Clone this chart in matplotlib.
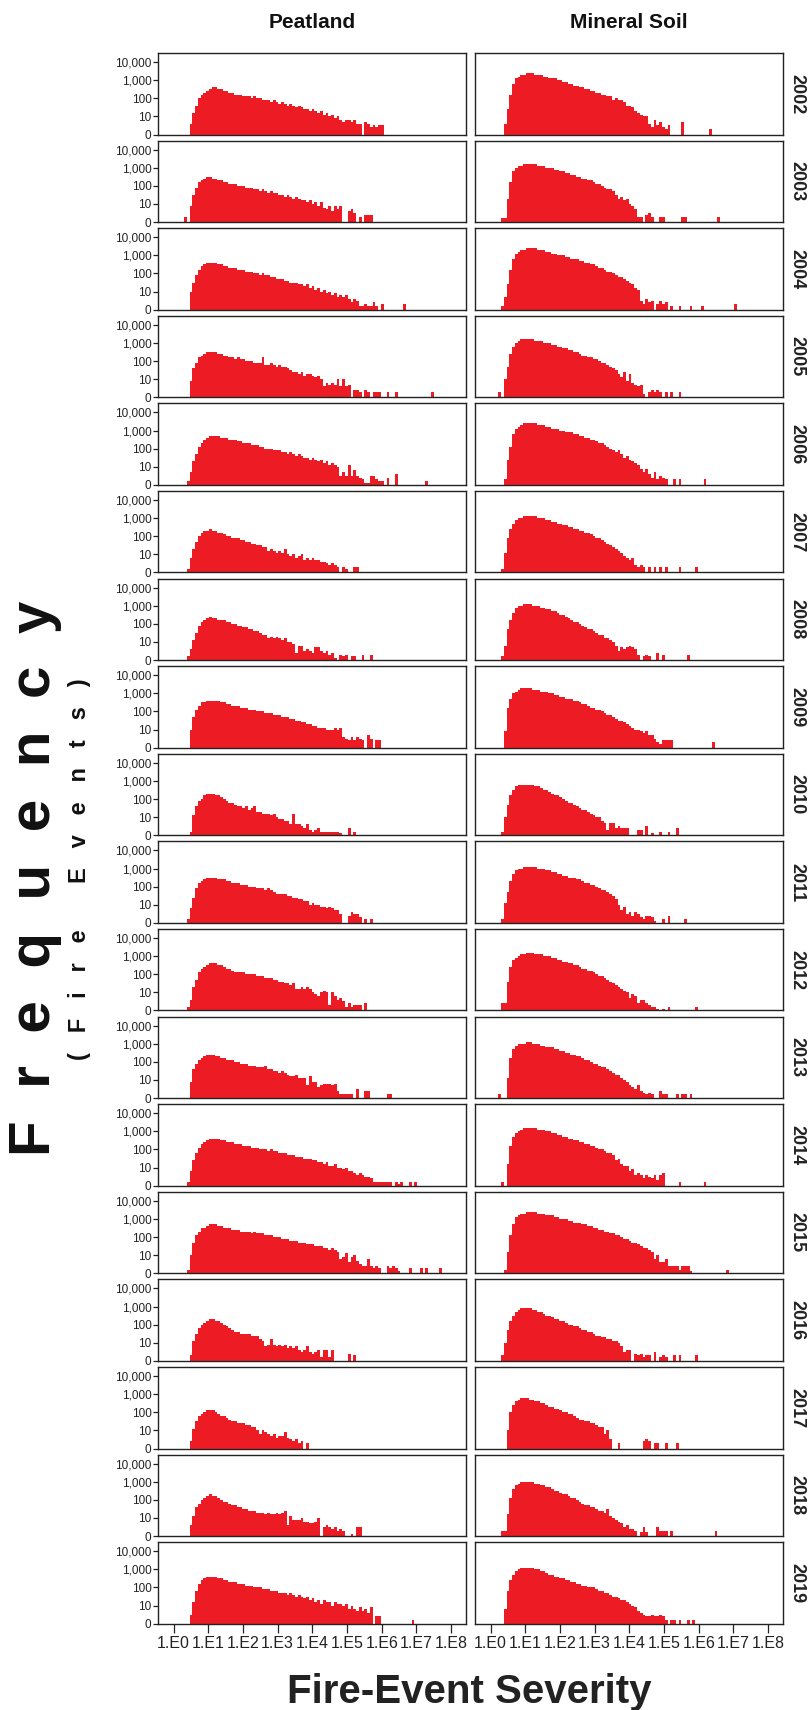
import matplotlib.pyplot as plt
import numpy as np

plt.rcParams['font.family'] = ['Liberation Sans', 'DejaVu Sans']

years = list(range(2002, 2020))
column_titles = ['Peatland', 'Mineral Soil']
x_tick_labels = ['1.E0', '1.E1', '1.E2', '1.E3', '1.E4', '1.E5', '1.E6', '1.E7', '1.E8']
y_tick_labels = ['0', '10', '100', '1,000', '10,000']

# histogram bins in log10(severity); first bin starts at 10^0.22
bin_start = 0.22
bin_width = 0.08

# bar heights as 10 * log10(frequency), one value per bin
peat_2002 = [0, 0, 0, 6, 12, 16, 20, 22, 23, 24,
             25, 26, 26, 25, 25, 24, 24, 23, 23, 22,
             22, 22, 21, 21, 21, 20, 21, 20, 20, 19,
             19, 19, 18, 19, 18, 17, 18, 17, 16, 17,
             16, 15, 16, 15, 14, 14, 13, 14, 13, 12,
             13, 11, 12, 10, 11, 9, 10, 8, 7, 8,
             8, 7, 8, 6, 6, 0, 7, 6, 4, 5,
             4, 5, 5]
mineral_2002 = [0, 0, 6, 14, 22, 28, 31, 32, 33, 33,
                34, 34, 34, 33, 33, 33, 32, 32, 31, 31,
                31, 30, 30, 29, 29, 28, 28, 27, 27, 26,
                26, 25, 25, 24, 24, 23, 23, 22, 22, 21,
                21, 19, 20, 19, 19, 18, 16, 16, 15, 13,
                12, 11, 10, 10, 6, 4, 8, 5, 7, 4,
                3, 5, 0, 0, 0, 0, 7, 0, 0, 0,
                0, 0, 0, 0, 0, 0, 3]

peat_2003 = [0, 3, 0, 9, 15, 19, 22, 23, 24, 25,
             25, 24, 24, 23, 23, 22, 22, 21, 21, 21,
             20, 20, 20, 19, 19, 19, 18, 18, 17, 18,
             17, 16, 17, 16, 16, 15, 15, 14, 15, 14,
             13, 14, 13, 12, 12, 11, 12, 10, 11, 9,
             11, 8, 7, 9, 6, 9, 7, 9, 0, 0,
             6, 7, 5, 0, 3, 0, 4, 4, 4]
mineral_2003 = [0, 2, 2, 13, 22, 28, 30, 31, 31, 32,
                32, 32, 32, 32, 31, 31, 31, 30, 30, 30,
                29, 29, 28, 28, 27, 27, 26, 26, 25, 25,
                24, 24, 23, 23, 22, 21, 21, 20, 19, 18,
                18, 17, 15, 13, 14, 12, 13, 10, 9, 7,
                3, 3, 0, 4, 5, 3, 0, 0, 3, 3,
                0, 0, 0, 0, 0, 0, 3, 3, 0, 0,
                0, 0, 0, 0, 0, 0, 0, 0, 0, 3]

peat_2004 = [0, 0, 0, 10, 15, 19, 22, 24, 25, 26,
             26, 26, 26, 25, 25, 24, 24, 23, 23, 23,
             22, 22, 22, 21, 21, 21, 20, 20, 19, 20,
             19, 19, 18, 18, 17, 17, 17, 16, 16, 15,
             15, 15, 14, 14, 13, 14, 12, 13, 11, 12,
             10, 11, 9, 10, 8, 9, 7, 8, 7, 8,
             6, 4, 6, 5, 2, 2, 3, 2, 2, 4,
             2, 0, 3, 0, 0, 0, 0, 0, 0, 0, 3]
mineral_2004 = [0, 2, 7, 14, 22, 28, 31, 32, 33, 33,
                34, 34, 34, 34, 33, 33, 33, 32, 32, 31,
                31, 30, 30, 30, 29, 29, 28, 28, 28, 27,
                27, 26, 26, 25, 25, 24, 23, 23, 22, 21,
                21, 20, 19, 18, 18, 17, 16, 15, 14, 12,
                11, 5, 3, 6, 4, 5, 0, 3, 5, 3,
                4, 0, 2, 0, 0, 2, 0, 0, 0, 2,
                0, 0, 0, 2, 0, 0, 0, 0, 0, 0,
                0, 0, 0, 0, 0, 3]

peat_2005 = [0, 0, 0, 9, 16, 19, 22, 23, 24, 25,
             25, 25, 25, 24, 24, 23, 23, 22, 22, 21,
             22, 21, 21, 20, 20, 20, 19, 19, 19, 22,
             18, 18, 19, 18, 17, 18, 17, 17, 16, 15,
             14, 14, 13, 14, 12, 13, 13, 12, 11, 12,
             10, 6, 8, 7, 8, 7, 10, 6, 10, 6,
             7, 0, 4, 4, 3, 0, 4, 3, 0, 3,
             3, 3, 0, 0, 3, 0, 0, 3, 0, 0,
             0, 0, 0, 0, 0, 0, 0, 0, 0, 0,
             3]
mineral_2005 = [3, 0, 10, 17, 24, 28, 30, 31, 32, 32,
                32, 32, 32, 31, 31, 31, 30, 30, 30, 29,
                29, 28, 28, 27, 27, 26, 26, 25, 25, 24,
                23, 23, 22, 22, 21, 21, 20, 19, 19, 18,
                17, 16, 15, 13, 11, 14, 9, 13, 8, 7,
                6, 7, 2, 0, 3, 4, 3, 4, 3, 0,
                3, 0, 3, 0, 0, 3]

peat_2006 = [0, 0, 2, 7, 13, 17, 21, 23, 25, 26,
             27, 27, 27, 27, 26, 26, 26, 25, 25, 25,
             24, 24, 23, 23, 23, 22, 22, 22, 21, 21,
             20, 20, 20, 19, 19, 19, 18, 18, 17, 18,
             17, 16, 17, 16, 15, 15, 14, 15, 14, 13,
             14, 12, 13, 11, 12, 11, 10, 5, 7, 5,
             11, 5, 8, 5, 4, 3, 1, 1, 5, 5,
             3, 2, 2, 0, 4, 0, 0, 6, 0, 0,
             0, 0, 0, 0, 0, 0, 0, 0, 2]
mineral_2006 = [0, 0, 3, 14, 21, 28, 31, 32, 33, 34,
                34, 34, 34, 34, 33, 33, 33, 32, 32, 31,
                31, 31, 30, 30, 29, 29, 29, 28, 28, 27,
                27, 26, 26, 25, 25, 24, 23, 23, 22, 21,
                20, 19, 18, 19, 17, 15, 16, 14, 13, 12,
                11, 9, 7, 9, 6, 4, 7, 3, 5, 4,
                3, 0, 0, 3, 0, 3, 0, 0, 0, 0,
                0, 0, 0, 0, 3]

peat_2007 = [0, 0, 2, 8, 13, 17, 20, 22, 23, 23,
             24, 23, 23, 22, 22, 21, 20, 20, 19, 19,
             19, 18, 18, 17, 17, 16, 16, 15, 15, 14,
             14, 12, 13, 12, 11, 12, 11, 13, 10, 9,
             10, 8, 9, 10, 7, 8, 7, 8, 7, 7,
             6, 6, 5, 4, 5, 4, 3, 0, 3, 2,
             0, 0, 3, 3]
mineral_2007 = [0, 2, 11, 19, 24, 27, 29, 30, 30, 31,
                31, 31, 31, 31, 30, 30, 30, 29, 29, 28,
                28, 27, 27, 26, 26, 25, 25, 24, 24, 23,
                23, 22, 22, 21, 20, 19, 19, 18, 17, 16,
                15, 14, 13, 12, 11, 9, 8, 7, 8, 4,
                3, 4, 3, 0, 3, 0, 3, 0, 3, 0,
                3, 0, 0, 0, 0, 3, 0, 0, 0, 0,
                0, 3]

peat_2008 = [0, 0, 2, 6, 11, 15, 19, 21, 22, 23,
             24, 23, 23, 22, 22, 22, 21, 21, 20, 20,
             19, 19, 18, 18, 17, 17, 16, 16, 15, 14,
             14, 12, 13, 12, 13, 12, 11, 12, 10, 10,
             9, 4, 8, 8, 5, 6, 5, 4, 7, 7,
             5, 4, 5, 3, 4, 1, 0, 3, 2, 3,
             0, 2, 2, 0, 0, 3, 0, 0, 3]
mineral_2008 = [0, 2, 8, 17, 22, 26, 29, 30, 30, 31,
                31, 31, 30, 30, 30, 29, 29, 28, 28, 27,
                27, 26, 25, 25, 24, 23, 22, 21, 21, 20,
                19, 18, 17, 17, 16, 15, 14, 14, 12, 12,
                11, 10, 8, 5, 7, 6, 7, 8, 7, 6,
                3, 0, 2, 3, 2, 0, 0, 4, 0, 3,
                0, 0, 0, 0, 0, 0, 0, 0, 3]

peat_2009 = [0, 0, 0, 10, 17, 21, 23, 25, 25, 26,
             26, 26, 26, 26, 25, 25, 24, 24, 23, 23,
             23, 22, 22, 22, 21, 21, 21, 20, 20, 20,
             19, 19, 19, 18, 18, 18, 17, 17, 17, 16,
             16, 15, 15, 14, 14, 13, 13, 12, 12, 11,
             11, 11, 10, 10, 10, 11, 10, 11, 6, 5,
             4, 6, 4, 6, 5, 4, 0, 7, 5, 0,
             4, 4]
mineral_2009 = [0, 0, 9, 22, 27, 30, 31, 32, 33, 33,
                33, 33, 32, 32, 32, 31, 31, 31, 30, 30,
                29, 29, 28, 28, 27, 27, 27, 26, 26, 25,
                24, 24, 23, 22, 22, 21, 21, 20, 19, 18,
                18, 17, 16, 15, 15, 14, 13, 12, 11, 10,
                10, 9, 8, 9, 7, 7, 5, 3, 2, 4,
                4, 4, 4, 0, 0, 0, 0, 0, 0, 0,
                0, 0, 0, 0, 0, 0, 0, 3]

peat_2010 = [0, 0, 0, 2, 11, 16, 19, 20, 22, 23,
             23, 23, 22, 22, 21, 20, 19, 18, 18, 17,
             16, 16, 15, 16, 14, 15, 16, 13, 13, 12,
             12, 12, 11, 12, 10, 9, 9, 8, 8, 6,
             12, 6, 6, 5, 4, 6, 3, 2, 3, 4,
             2, 2, 2, 2, 2, 2, 2, 1, 0, 0,
             4, 0, 2]
mineral_2010 = [0, 2, 10, 17, 22, 25, 27, 28, 28, 28,
                28, 28, 28, 27, 27, 26, 25, 25, 24, 23,
                22, 22, 21, 20, 19, 18, 18, 17, 16, 15,
                14, 14, 13, 12, 11, 10, 10, 8, 7, 3,
                7, 7, 4, 5, 4, 4, 4, 0, 0, 0,
                3, 3, 0, 5, 0, 1, 0, 0, 2, 0,
                0, 2, 0, 0, 4]

peat_2011 = [0, 0, 2, 8, 14, 19, 22, 23, 24, 25,
             25, 25, 25, 24, 24, 24, 23, 23, 22, 22,
             22, 21, 21, 21, 20, 20, 20, 19, 19, 19,
             18, 19, 18, 17, 16, 16, 16, 16, 15, 15,
             14, 14, 13, 13, 12, 12, 10, 11, 10, 10,
             9, 9, 8, 9, 8, 7, 7, 5, 0, 0,
             4, 6, 5, 5, 3, 0, 2, 0, 2]
mineral_2011 = [0, 2, 11, 17, 23, 27, 29, 30, 30, 31,
                31, 31, 31, 31, 30, 30, 30, 29, 29, 28,
                28, 27, 27, 26, 26, 25, 25, 25, 24, 24,
                23, 22, 22, 21, 21, 20, 19, 18, 18, 17,
                16, 15, 13, 10, 7, 9, 5, 6, 4, 6,
                5, 3, 2, 4, 4, 3, 1, 0, 0, 2,
                0, 4, 0, 0, 0, 0, 0, 2]

peat_2012 = [0, 0, 2, 6, 13, 17, 21, 23, 24, 25,
             26, 26, 26, 25, 25, 24, 23, 23, 22, 21,
             21, 21, 21, 20, 20, 20, 20, 19, 19, 19,
             18, 18, 18, 17, 17, 16, 16, 15, 15, 14,
             15, 12, 12, 13, 12, 13, 12, 10, 9, 8,
             10, 11, 10, 3, 10, 8, 6, 7, 5, 2,
             4, 2, 3, 3, 3, 0, 4]
mineral_2012 = [0, 4, 4, 16, 24, 28, 29, 30, 31, 31,
                32, 32, 32, 31, 31, 31, 30, 30, 30, 29,
                29, 28, 28, 27, 27, 26, 26, 25, 25, 24,
                23, 23, 22, 22, 21, 20, 19, 19, 18, 17,
                16, 15, 14, 13, 12, 11, 10, 7, 9, 8,
                4, 6, 6, 4, 3, 2, 2, 1, 0, 1,
                0, 2, 0, 0, 0, 0, 0, 0, 0, 0,
                0, 2]

peat_2013 = [0, 0, 0, 9, 16, 19, 21, 22, 23, 24,
             24, 24, 23, 23, 22, 22, 21, 21, 21, 20,
             20, 19, 19, 19, 18, 18, 18, 17, 17, 17,
             18, 16, 16, 15, 15, 14, 15, 14, 13, 12,
             12, 13, 11, 11, 11, 7, 12, 9, 9, 6,
             7, 8, 8, 8, 7, 8, 4, 2, 2, 2,
             2, 2, 0, 5, 0, 0, 4, 4, 0, 0,
             0, 0, 0, 0, 2, 2]
mineral_2013 = [2, 0, 0, 11, 22, 27, 29, 30, 30, 30,
                31, 31, 30, 30, 30, 29, 29, 28, 28, 28,
                27, 27, 26, 26, 25, 25, 24, 24, 23, 23,
                22, 21, 21, 20, 19, 19, 18, 17, 17, 16,
                15, 14, 13, 13, 11, 10, 9, 7, 6, 5,
                7, 4, 3, 2, 3, 2, 0, 0, 4, 2,
                2, 0, 0, 0, 2, 0, 2, 2, 0, 2]

peat_2014 = [0, 0, 2, 8, 14, 18, 21, 23, 24, 25,
             26, 26, 26, 26, 25, 25, 24, 24, 24, 23,
             23, 23, 22, 22, 22, 21, 21, 21, 20, 20,
             20, 19, 20, 19, 19, 18, 18, 18, 17, 17,
             17, 16, 16, 16, 15, 15, 15, 14, 14, 13,
             13, 12, 13, 11, 11, 12, 10, 10, 9, 10,
             8, 8, 7, 6, 7, 6, 5, 5, 4, 2,
             2, 2, 2, 2, 2, 2, 0, 2, 1, 2,
             0, 0, 2, 0, 2]
mineral_2014 = [0, 2, 0, 12, 22, 27, 29, 30, 31, 32,
                32, 32, 32, 32, 31, 31, 31, 30, 30, 29,
                29, 28, 28, 27, 27, 26, 26, 25, 25, 24,
                24, 23, 23, 22, 22, 21, 20, 20, 19, 18,
                18, 17, 14, 15, 12, 11, 11, 8, 9, 6,
                7, 6, 4, 6, 5, 4, 6, 3, 6, 7,
                0, 0, 0, 0, 0, 2, 0, 0, 0, 0,
                0, 0, 0, 0, 2]

peat_2015 = [0, 0, 2, 10, 17, 21, 23, 25, 25, 26,
             27, 27, 27, 26, 26, 25, 25, 25, 24, 24,
             24, 23, 23, 23, 23, 22, 23, 22, 22, 22,
             21, 21, 21, 20, 20, 20, 19, 19, 19, 18,
             18, 18, 17, 17, 17, 16, 16, 16, 15, 15,
             15, 14, 14, 13, 14, 13, 12, 8, 9, 11,
             6, 9, 10, 7, 5, 4, 4, 8, 4, 3,
             4, 3, 0, 0, 4, 3, 4, 3, 1, 0,
             0, 0, 3, 0, 0, 0, 3, 0, 3, 0,
             0, 0, 0, 3]
mineral_2015 = [0, 0, 2, 12, 21, 27, 31, 32, 33, 33,
                34, 34, 34, 34, 33, 33, 33, 32, 32, 32,
                31, 31, 30, 30, 30, 29, 29, 28, 28, 28,
                27, 27, 26, 26, 25, 25, 24, 24, 23, 23,
                22, 22, 21, 21, 20, 19, 19, 18, 17, 17,
                16, 15, 14, 14, 13, 12, 8, 10, 6, 6,
                8, 4, 4, 4, 4, 2, 4, 4, 4, 1,
                0, 0, 0, 0, 0, 0, 0, 0, 0, 0,
                0, 0, 2]

peat_2016 = [0, 0, 0, 3, 11, 15, 18, 20, 21, 22,
             23, 23, 22, 22, 21, 20, 19, 18, 17, 16,
             16, 15, 15, 15, 15, 14, 14, 14, 12, 11,
             8, 9, 12, 9, 8, 9, 8, 9, 7, 8,
             7, 8, 6, 5, 6, 8, 5, 4, 5, 6,
             2, 6, 6, 2, 6, 0, 0, 0, 0, 0,
             4, 0, 3]
mineral_2016 = [0, 3, 10, 17, 22, 25, 27, 28, 29, 29,
                29, 29, 28, 28, 27, 27, 26, 25, 25, 24,
                23, 23, 22, 22, 21, 20, 20, 19, 19, 18,
                17, 17, 16, 16, 15, 14, 14, 13, 13, 12,
                12, 11, 11, 10, 8, 5, 6, 6, 0, 4,
                3, 4, 2, 3, 3, 0, 5, 0, 2, 3,
                2, 0, 0, 3, 0, 3, 0, 0, 0, 0,
                0, 3]

peat_2017 = [0, 0, 0, 4, 11, 15, 18, 19, 20, 21,
             21, 21, 20, 19, 18, 18, 17, 16, 15, 15,
             14, 14, 14, 13, 13, 12, 12, 10, 8, 10,
             9, 8, 7, 8, 6, 7, 7, 9, 6, 5,
             4, 5, 3, 4, 0, 3]
mineral_2017 = [0, 0, 0, 10, 20, 24, 26, 27, 28, 28,
                28, 27, 27, 26, 26, 25, 25, 24, 23, 23,
                22, 22, 21, 20, 20, 19, 19, 18, 17, 16,
                16, 15, 15, 14, 14, 13, 12, 12, 8, 10,
                5, 0, 0, 3, 0, 0, 0, 0, 0, 0,
                0, 0, 4, 5, 4, 0, 3, 3, 0, 0,
                3, 0, 0, 0, 3]

peat_2018 = [0, 0, 0, 6, 11, 16, 18, 20, 21, 22,
             23, 22, 22, 21, 20, 19, 19, 18, 17, 17,
             16, 16, 15, 15, 14, 14, 14, 13, 13, 13,
             12, 13, 12, 12, 13, 12, 13, 14, 6, 11,
             9, 9, 9, 10, 8, 8, 7, 7, 8, 10,
             0, 5, 6, 5, 4, 5, 3, 4, 3, 0,
             0, 1, 0, 5, 5]
mineral_2018 = [0, 3, 3, 12, 21, 26, 28, 29, 30, 30,
                30, 30, 30, 29, 29, 28, 28, 27, 27, 26,
                25, 25, 24, 23, 23, 22, 21, 21, 20, 19,
                18, 17, 17, 16, 16, 15, 14, 14, 13, 15,
                11, 10, 9, 8, 7, 5, 6, 4, 4, 3,
                0, 2, 5, 2, 0, 0, 0, 5, 3, 3,
                3, 0, 3, 0, 0, 0, 0, 0, 0, 0,
                0, 0, 0, 0, 0, 0, 0, 0, 3]

peat_2019 = [0, 0, 0, 5, 12, 18, 22, 24, 25, 26,
             26, 26, 26, 25, 25, 24, 24, 23, 23, 23,
             22, 22, 22, 21, 21, 21, 20, 20, 20, 19,
             19, 19, 18, 18, 18, 17, 17, 17, 16, 17,
             16, 15, 16, 15, 14, 15, 13, 14, 12, 13,
             11, 13, 12, 12, 10, 12, 11, 11, 10, 11,
             8, 10, 8, 7, 9, 7, 8, 6, 9, 0,
             4, 4, 0, 0, 0, 0, 0, 0, 0, 0,
             0, 0, 0, 2]
mineral_2019 = [0, 0, 8, 18, 24, 27, 29, 30, 31, 31,
                31, 31, 31, 30, 30, 29, 29, 28, 27, 27,
                26, 26, 25, 25, 24, 24, 23, 23, 22, 22,
                21, 21, 20, 20, 20, 19, 18, 18, 17, 17,
                16, 15, 15, 14, 13, 13, 12, 11, 10, 9,
                7, 6, 5, 4, 4, 5, 4, 4, 5, 4,
                2, 0, 2, 2, 0, 2, 0, 0, 2, 0,
                2]

peatland = [peat_2002, peat_2003, peat_2004, peat_2005, peat_2006, peat_2007,
            peat_2008, peat_2009, peat_2010, peat_2011, peat_2012, peat_2013,
            peat_2014, peat_2015, peat_2016, peat_2017, peat_2018, peat_2019]
mineral_soil = [mineral_2002, mineral_2003, mineral_2004, mineral_2005, mineral_2006,
                mineral_2007, mineral_2008, mineral_2009, mineral_2010, mineral_2011,
                mineral_2012, mineral_2013, mineral_2014, mineral_2015, mineral_2016,
                mineral_2017, mineral_2018, mineral_2019]

W, H = 808, 1710
BAR_RED = '#ED1C24'
FRAME = '#222222'

fig = plt.figure(figsize=(W / 100, H / 100), dpi=100)


def add_panel(left, top, width, height):
    # position given in pixels from the top-left corner
    return fig.add_axes([left / W, 1 - (top + height) / H, width / W, height / H])


col_left = [158, 475]
panel_w = 308
panel_h = 81.5
row_top0 = 53
row_pitch = 87.6

for i, year in enumerate(years):
    top = row_top0 + i * row_pitch
    for j, series in enumerate([peatland[i], mineral_soil[i]]):
        ax = add_panel(col_left[j], top, panel_w, panel_h)
        vals = np.array(series) / 10.0
        edges = bin_start + bin_width * np.arange(len(vals) + 1)
        ax.stairs(vals, edges, fill=True, color=BAR_RED, linewidth=0, baseline=0)
        ax.set_xlim(-0.45, 8.43)
        ax.set_ylim(0, 4.5)
        for sp in ax.spines.values():
            sp.set_color(FRAME)
            sp.set_linewidth(1.0)

        if j == 0:
            ax.set_yticks(range(5))
            ax.set_yticklabels(y_tick_labels, fontsize=8.5)
            ax.tick_params(axis='y', direction='out', length=3.5, width=0.9, pad=1.2, colors=FRAME)
        else:
            ax.set_yticks([])

        if i == len(years) - 1:
            ax.set_xticks(range(9))
            ax.set_xticklabels(x_tick_labels, fontsize=11.5)
            ax.tick_params(axis='x', direction='out', length=6.5, width=0.9, pad=2.5, colors=FRAME)
        else:
            ax.set_xticks([])

    fig.text(797 / W, 1 - (top + panel_h / 2) / H, str(year), rotation=270,
             ha='center', va='center', fontsize=13, weight='bold', color='#222222')

for j, title in enumerate(column_titles):
    fig.text((col_left[j] + panel_w / 2) / W, 1 - 23 / H, title,
             ha='center', va='center', fontsize=15, weight='bold', color='#111111')

fig.text(35 / W, 1 - 878 / H, '  '.join('Frequency'), rotation=90,
         ha='center', va='center', fontsize=42, weight='bold', color='#111111')
fig.text(80 / W, 1 - 869 / H, '   '.join('(Fire Events)'), rotation=90,
         ha='center', va='center', fontsize=17, weight='bold', color='#111111')

fig.text(469 / W, 1 - 1692 / H, 'Fire-Event Severity',
         ha='center', va='center', fontsize=29, weight='bold', color='#222222')

fig.savefig('out.png', dpi=100)
